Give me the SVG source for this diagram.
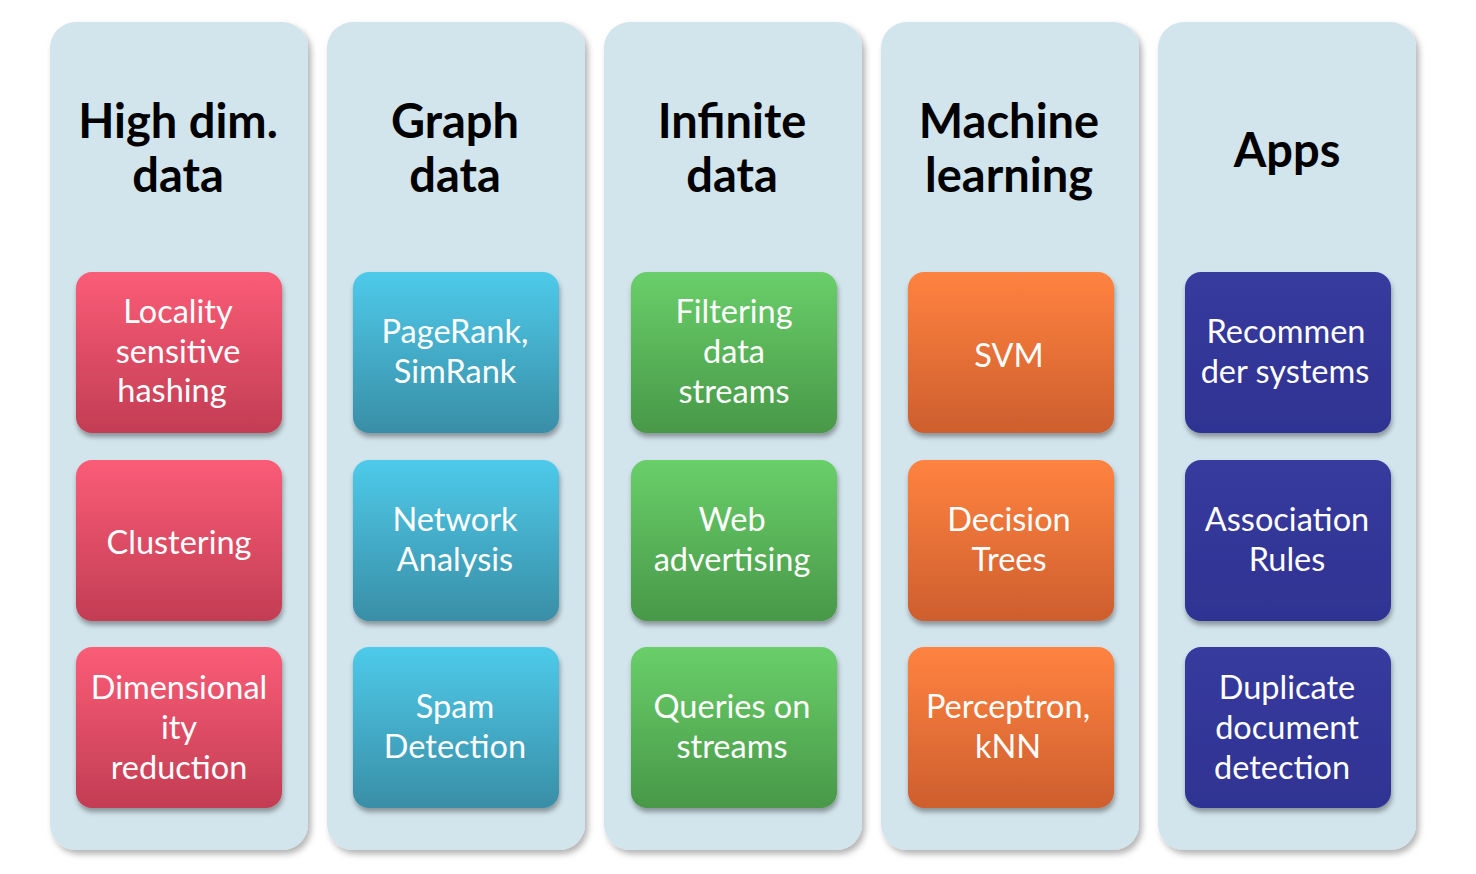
<svg xmlns="http://www.w3.org/2000/svg" width="1476" height="874" viewBox="0 0 1476 874">
<defs>
<filter id="colsh" x="-10%" y="-5%" width="125%" height="115%">
<feDropShadow dx="3" dy="4" stdDeviation="3" flood-color="#000" flood-opacity="0.3"/>
</filter>
<filter id="boxsh" x="-10%" y="-10%" width="125%" height="130%">
<feDropShadow dx="1" dy="4" stdDeviation="2.5" flood-color="#000" flood-opacity="0.35"/>
</filter>
<linearGradient id="gRed" x1="0" y1="0" x2="0" y2="1"><stop offset="0" stop-color="#FB5C77"/><stop offset="1" stop-color="#C23D53"/></linearGradient>
<linearGradient id="gBlue" x1="0" y1="0" x2="0" y2="1"><stop offset="0" stop-color="#4ECAEA"/><stop offset="1" stop-color="#398EA6"/></linearGradient>
<linearGradient id="gGreen" x1="0" y1="0" x2="0" y2="1"><stop offset="0" stop-color="#69CF69"/><stop offset="1" stop-color="#489848"/></linearGradient>
<linearGradient id="gOrange" x1="0" y1="0" x2="0" y2="1"><stop offset="0" stop-color="#FF8340"/><stop offset="1" stop-color="#CE5E2E"/></linearGradient>
<linearGradient id="gNavy" x1="0" y1="0" x2="0" y2="1"><stop offset="0" stop-color="#373B9E"/><stop offset="1" stop-color="#2F3392"/></linearGradient>
</defs>
<style>
.col{fill:#D2E4EC;filter:url(#colsh)}
.box{filter:url(#boxsh)}
.title{font-family:Lato,"Liberation Sans",sans-serif;font-weight:bold;font-size:47px;fill:#000;text-anchor:middle}
.lbl{font-family:Lato,"Liberation Sans",sans-serif;font-size:32.5px;fill:#fff;text-anchor:middle}
</style>
<rect width="1476" height="874" fill="#fff"/>

<g id="col-highdim">
<rect class="col" x="50" y="22" width="258" height="828" rx="26"/>
<text class="title" x="178" y="138">High dim.</text>
<text class="title" x="178" y="192">data</text>
</g>
<g id="col-graph">
<rect class="col" x="327" y="22" width="258" height="828" rx="26"/>
<text class="title" x="455" y="138">Graph</text>
<text class="title" x="455" y="192">data</text>
</g>
<g id="col-infinite">
<rect class="col" x="604" y="22" width="258" height="828" rx="26"/>
<text class="title" x="732" y="138">Infinite</text>
<text class="title" x="732" y="192">data</text>
</g>
<g id="col-ml">
<rect class="col" x="881" y="22" width="258" height="828" rx="26"/>
<text class="title" x="1009" y="138">Machine</text>
<text class="title" x="1009" y="192">learning</text>
</g>
<g id="col-apps">
<rect class="col" x="1158" y="22" width="258" height="828" rx="26"/>
<text class="title" x="1287" y="167">Apps</text>
</g>

<g id="lsh"><rect class="box" x="76" y="272" width="206" height="161" rx="16" fill="url(#gRed)"/>
<text class="lbl" x="178" y="323">Locality</text><text class="lbl" x="178" y="363">sensitive</text><text class="lbl" x="172" y="402">hashing</text></g>
<g id="clustering"><rect class="box" x="76" y="460" width="206" height="161" rx="16" fill="url(#gRed)"/>
<text class="lbl" x="179" y="554">Clustering</text></g>
<g id="dimred"><rect class="box" x="76" y="647" width="206" height="161" rx="16" fill="url(#gRed)"/>
<text class="lbl" x="179" y="699">Dimensional</text><text class="lbl" x="179" y="739">ity</text><text class="lbl" x="179" y="779">reduction</text></g>

<g id="pagerank"><rect class="box" x="353" y="272" width="206" height="161" rx="16" fill="url(#gBlue)"/>
<text class="lbl" x="455" y="343">PageRank,</text><text class="lbl" x="455" y="383">SimRank</text></g>
<g id="network"><rect class="box" x="353" y="460" width="206" height="161" rx="16" fill="url(#gBlue)"/>
<text class="lbl" x="455" y="531">Network</text><text class="lbl" x="455" y="571">Analysis</text></g>
<g id="spam"><rect class="box" x="353" y="647" width="206" height="161" rx="16" fill="url(#gBlue)"/>
<text class="lbl" x="455" y="718">Spam</text><text class="lbl" x="455" y="758">Detection</text></g>

<g id="filtering"><rect class="box" x="631" y="272" width="206" height="161" rx="16" fill="url(#gGreen)"/>
<text class="lbl" x="734" y="323">Filtering</text><text class="lbl" x="734" y="363">data</text><text class="lbl" x="734" y="403">streams</text></g>
<g id="webads"><rect class="box" x="631" y="460" width="206" height="161" rx="16" fill="url(#gGreen)"/>
<text class="lbl" x="732" y="531">Web</text><text class="lbl" x="732" y="571">advertising</text></g>
<g id="queries"><rect class="box" x="631" y="647" width="206" height="161" rx="16" fill="url(#gGreen)"/>
<text class="lbl" x="732" y="718">Queries on</text><text class="lbl" x="732" y="758">streams</text></g>

<g id="svm"><rect class="box" x="908" y="272" width="206" height="161" rx="16" fill="url(#gOrange)"/>
<text class="lbl" x="1009" y="367">SVM</text></g>
<g id="dtrees"><rect class="box" x="908" y="460" width="206" height="161" rx="16" fill="url(#gOrange)"/>
<text class="lbl" x="1009" y="531">Decision</text><text class="lbl" x="1009" y="571">Trees</text></g>
<g id="perceptron"><rect class="box" x="908" y="647" width="206" height="161" rx="16" fill="url(#gOrange)"/>
<text class="lbl" x="1008" y="718">Perceptron,</text><text class="lbl" x="1008" y="758">kNN</text></g>

<g id="recsys"><rect class="box" x="1185" y="272" width="206" height="161" rx="16" fill="url(#gNavy)"/>
<text class="lbl" x="1286" y="343">Recommen</text><text class="lbl" x="1285" y="383">der systems</text></g>
<g id="assoc"><rect class="box" x="1185" y="460" width="206" height="161" rx="16" fill="url(#gNavy)"/>
<text class="lbl" x="1287" y="531">Association</text><text class="lbl" x="1287" y="571">Rules</text></g>
<g id="dupdoc"><rect class="box" x="1185" y="647" width="206" height="161" rx="16" fill="url(#gNavy)"/>
<text class="lbl" x="1287" y="699">Duplicate</text><text class="lbl" x="1287" y="739">document</text><text class="lbl" x="1282" y="779">detection</text></g>

<g id="connectors"/>
</svg>
